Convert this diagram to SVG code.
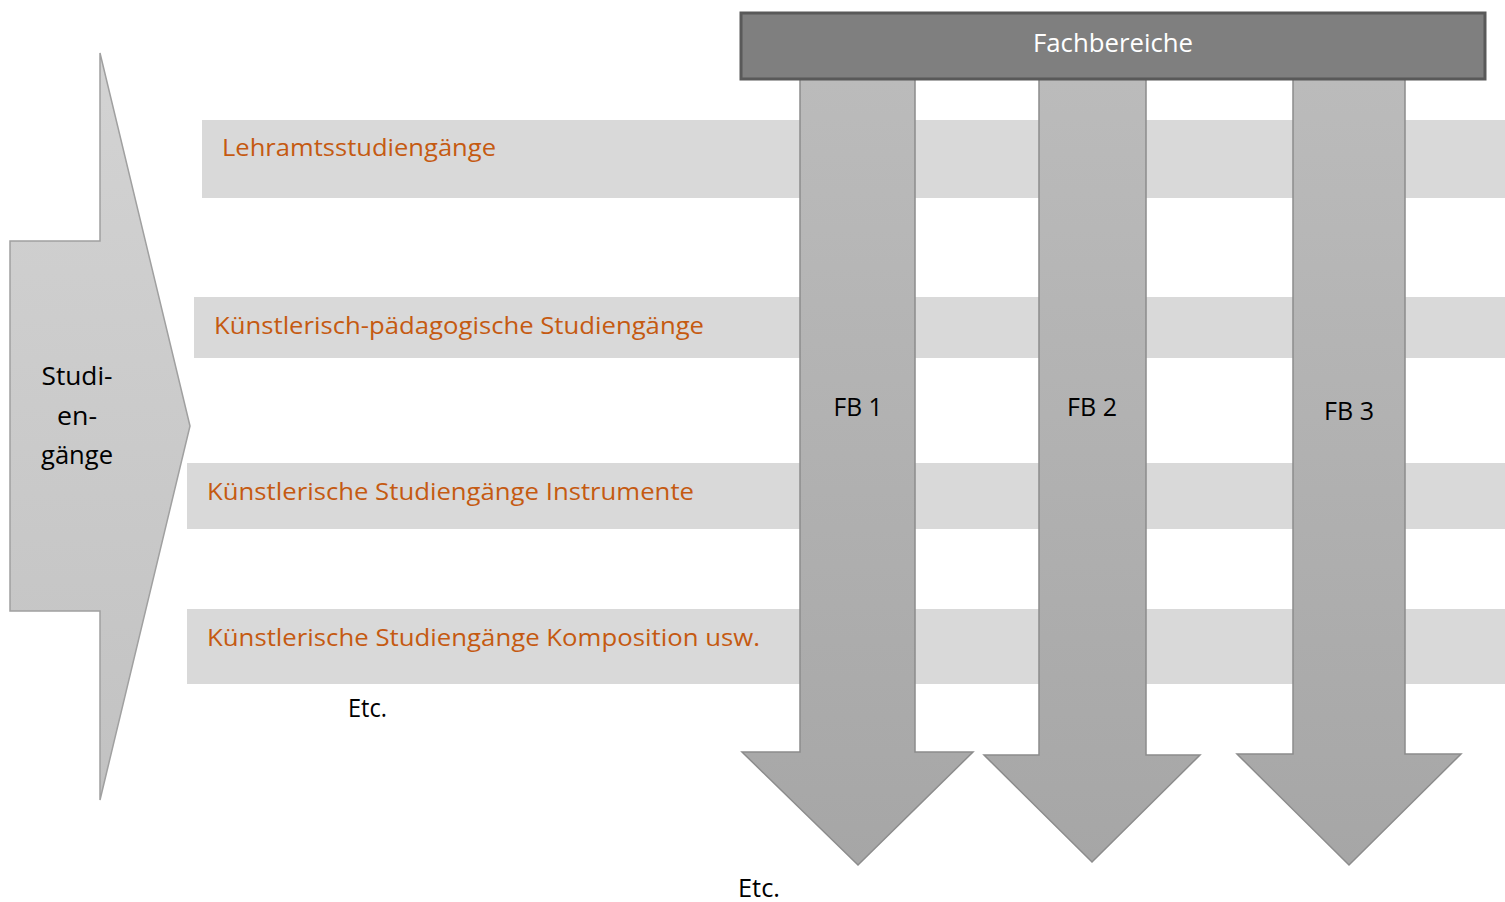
<svg xmlns="http://www.w3.org/2000/svg" width="1505" height="902" viewBox="0 0 1505 902">
<defs>
<linearGradient id="gL" x1="0" y1="0" x2="0" y2="1"><stop offset="0" stop-color="#d3d3d3"/><stop offset="1" stop-color="#c2c2c2"/></linearGradient>
<linearGradient id="gD" x1="0" y1="0" x2="0" y2="1"><stop offset="0" stop-color="#bbbbbb"/><stop offset="1" stop-color="#a6a6a6"/></linearGradient>
<style>
.band{fill:#d9d9d9}
.lbl{font-family:"Open Sans","Noto Sans",sans-serif;font-size:24px;fill:#c55a11}
.blk{font-family:"Open Sans","Noto Sans",sans-serif;font-size:25px;fill:#000}
.arr{fill:url(#gD);stroke:#8c8c8c;stroke-width:1.5}
</style>
</defs>
<rect width="1505" height="902" fill="#fff"/>
<g id="studiengaenge">
<polygon points="10,241 100,241 100,53 190,426 100,800 100,611 10,611" fill="url(#gL)" stroke="#a0a0a0" stroke-width="1.5"/>
<text class="blk" x="77" y="385" text-anchor="middle" textLength="71" lengthAdjust="spacingAndGlyphs">Studi-</text>
<text class="blk" x="77" y="425" text-anchor="middle" textLength="40" lengthAdjust="spacingAndGlyphs">en-</text>
<text class="blk" x="77" y="464" text-anchor="middle" textLength="72" lengthAdjust="spacingAndGlyphs">gänge</text>
</g>
<g id="band1"><rect class="band" x="202" y="120" width="1303" height="78"/><text class="lbl" x="222" y="156" textLength="274" lengthAdjust="spacingAndGlyphs">Lehramtsstudiengänge</text></g>
<g id="band2"><rect class="band" x="194" y="297" width="1311" height="61"/><text class="lbl" x="214" y="334" textLength="490" lengthAdjust="spacingAndGlyphs">Künstlerisch-pädagogische Studiengänge</text></g>
<g id="band3"><rect class="band" x="187" y="463" width="1318" height="66"/><text class="lbl" x="207" y="500" textLength="487" lengthAdjust="spacingAndGlyphs">Künstlerische Studiengänge Instrumente</text></g>
<g id="band4"><rect class="band" x="187" y="609" width="1318" height="75"/><text class="lbl" x="207" y="646" textLength="553" lengthAdjust="spacingAndGlyphs">Künstlerische Studiengänge Komposition usw.</text></g>
<g id="etc1"><text class="blk" x="348" y="717" font-size="21" textLength="39" lengthAdjust="spacingAndGlyphs">Etc.</text></g>
<g id="connectors">
<g id="fb1"><polygon class="arr" points="800,79 915,79 915,752 973,752 858,865 742,752 800,752"/><text class="blk" x="858" y="416" text-anchor="middle" textLength="49" lengthAdjust="spacingAndGlyphs">FB 1</text></g>
<g id="fb2"><polygon class="arr" points="1039,79 1146,79 1146,755 1200,755 1092,862 984,755 1039,755"/><text class="blk" x="1092" y="416" text-anchor="middle" textLength="50" lengthAdjust="spacingAndGlyphs">FB 2</text></g>
<g id="fb3"><polygon class="arr" points="1293,79 1405,79 1405,754 1461,754 1349,865 1237,754 1293,754"/><text class="blk" x="1349" y="420" text-anchor="middle" textLength="50" lengthAdjust="spacingAndGlyphs">FB 3</text></g>
</g>
<g id="fachbereiche">
<rect x="741" y="13" width="744" height="66" fill="#7f7f7f" stroke="#595959" stroke-width="3"/>
<text x="1113" y="52" text-anchor="middle" font-family="Open Sans, Noto Sans, sans-serif" font-size="25" fill="#fff" textLength="160" lengthAdjust="spacingAndGlyphs">Fachbereiche</text>
</g>
<g id="etc2"><text class="blk" x="738" y="897" font-size="23" textLength="42" lengthAdjust="spacingAndGlyphs">Etc.</text></g>
</svg>
